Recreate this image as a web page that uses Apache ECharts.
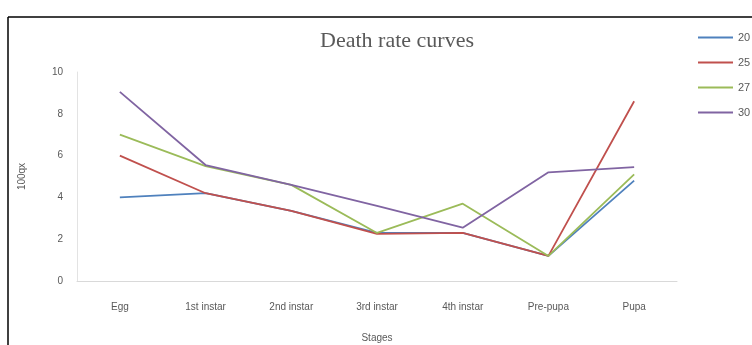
<!DOCTYPE html>
<html>
<head>
<meta charset="utf-8">
<script src="https://cdn.jsdelivr.net/npm/echarts@6/dist/echarts.min.js"></script>
<style>
html,body{margin:0;padding:0;background:#fff;}
#c{width:752px;height:345px;}
</style>
</head>
<body>
<div id="c"></div>
<script>
const categories = ['Egg', '1st instar', '2nd instar', '3rd instar', '4th instar', 'Pre-pupa', 'Pupa'];
const seriesNames = ['20 (°C)', '25 (°C)', '27 (°C)', '30 (°C)'];
const s20 = [4.0, 4.2, 3.35, 2.3, 2.3, 1.2, 4.8];
const s25 = [6.0, 4.2, 3.35, 2.25, 2.3, 1.2, 8.6];
const s27 = [7.0, 5.5, 4.6, 2.3, 3.7, 1.2, 5.1];
const s30 = [9.05, 5.55, 4.6, 3.6, 2.55, 5.2, 5.45];
const yTicks = [0, 2, 4, 6, 8, 10];
const colors = ['#4F81BD', '#C0504D', '#9BBB59', '#8064A2'];

const chart = echarts.init(document.getElementById('c'), null, {renderer: 'canvas'});
const data = [s20, s25, s27, s30];
chart.setOption({
  animation: false,
  backgroundColor: '#fff',
  color: colors,
  title: {
    text: 'Death rate curves',
    left: 392, top: 25, textAlign: 'center',
    textStyle: {fontFamily: 'Liberation Serif', fontSize: 22, fontWeight: 'normal', color: '#595959'}
  },
  legend: {
    orient: 'vertical', left: 693, top: 27,
    icon: 'rect', itemWidth: 35, itemHeight: 2, itemGap: 14,
    textStyle: {fontFamily: 'Liberation Sans', fontSize: 11, color: '#595959'},
    data: seriesNames
  },
  grid: {left: 77, right: 75, top: 72, bottom: 64, containLabel: false, outerBoundsMode: 'none'},
  xAxis: {
    type: 'category', data: categories, boundaryGap: true,
    name: 'Stages', nameLocation: 'middle', nameGap: 52,
    nameTextStyle: {fontFamily: 'Liberation Sans', fontSize: 10, color: '#595959'},
    axisLine: {lineStyle: {color: '#d9d9d9', width: 1}},
    axisTick: {show: false},
    axisLabel: {fontFamily: 'Liberation Sans', fontSize: 10, color: '#595959', margin: 21}
  },
  yAxis: {
    type: 'value', min: yTicks[0], max: yTicks[yTicks.length-1], interval: 2,
    name: '100qx', nameLocation: 'middle', nameGap: 50, nameRotate: 90,
    nameTextStyle: {fontFamily: 'Liberation Sans', fontSize: 10, color: '#595959'},
    axisLine: {show: true, lineStyle: {color: '#e3e3e3', width: 1}},
    axisTick: {show: false},
    splitLine: {show: false},
    axisLabel: {fontFamily: 'Liberation Sans', fontSize: 10, color: '#595959', margin: 14}
  },
  series: seriesNames.map((n, i) => ({
    name: n, type: 'line', data: data[i], symbol: 'none',
    lineStyle: {width: 1.8, color: colors[i]}, itemStyle: {color: colors[i]}
  })),
  graphic: [
    {type: 'line', shape: {x1: 8, y1: 17, x2: 752, y2: 17}, style: {stroke: '#000', lineWidth: 1.5}},
    {type: 'line', shape: {x1: 8, y1: 17, x2: 8, y2: 345}, style: {stroke: '#000', lineWidth: 1.5}}
  ]
});
</script>
</body>
</html>
